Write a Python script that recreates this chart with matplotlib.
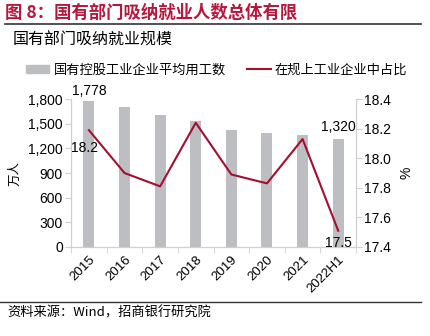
import matplotlib.pyplot as plt
from matplotlib.lines import Line2D
import numpy as np

plt.rcParams['font.family'] = ['Liberation Sans', 'Noto Sans CJK SC', 'DejaVu Sans']

categories = ['2015', '2016', '2017', '2018', '2019', '2020', '2021', '2022H1']
employees = [1778, 1700, 1605, 1532, 1423, 1390, 1362, 1320]
share = [18.19, 17.90, 17.81, 18.24, 17.89, 17.83, 18.13, 17.51]

bar_color = '#BDBEC2'
line_color = '#A50E2E'
spine_color = '#D0D0D0'
cjk = ['Noto Sans CJK SC']

fig = plt.figure(figsize=(4.31, 3.36), dpi=100)
ax = fig.add_axes([0.165, 0.265, 0.661, 0.44])
ax2 = ax.twinx()

x = np.arange(len(categories))
ax.bar(x, employees, width=0.31, color=bar_color, zorder=2)
ax2.plot(x, share, color=line_color, lw=1.5, zorder=3)

ax.set_xlim(-0.5, len(categories) - 0.5)
ax.set_ylim(0, 1800)
ax.set_yticks(range(0, 1801, 300))
ax.set_yticklabels([f'{v:,}' for v in range(0, 1801, 300)], fontsize=10)
ax2.set_ylim(17.4, 18.4)
ax2.set_yticks([17.4, 17.6, 17.8, 18.0, 18.2, 18.4])
ax2.set_yticklabels(['17.4', '17.6', '17.8', '18.0', '18.2', '18.4'], fontsize=10)

ax.set_xticks(x)
ax.set_xticklabels(categories, rotation=45, ha='right', rotation_mode='anchor', fontsize=9.5)
ax.set_xticks(np.arange(-0.5, len(categories), 1), minor=True)
ax.tick_params(axis='x', which='major', length=0, pad=5)
ax.tick_params(axis='x', which='minor', length=4, color=spine_color)
ax.tick_params(axis='y', length=4, color=spine_color, pad=2)
ax2.tick_params(axis='y', length=4, color=spine_color, pad=2)

for a in (ax, ax2):
    a.spines['top'].set_visible(False)
    for s in ('left', 'right', 'bottom'):
        a.spines[s].set_color(spine_color)

ax.set_ylabel('万人', fontsize=9, family=cjk, labelpad=5)
ax2.set_ylabel('%', fontsize=10, labelpad=6)

# data labels
ax.annotate(f'{employees[0]:,}', (x[0], employees[0]), xytext=(0, 2), textcoords='offset points',
            ha='center', va='bottom', fontsize=10)
ax.annotate(f'{employees[-1]:,}', (x[-1], employees[-1]), xytext=(0, 3), textcoords='offset points',
            ha='center', va='bottom', fontsize=10)
ax2.annotate(f'{share[0]:.1f}', (x[0], share[0]), xytext=(-3, -13), textcoords='offset points',
             ha='center', va='center', fontsize=10)
ax2.annotate(f'{share[-1]:.1f}', (x[-1], share[-1]), xytext=(0, -9), textcoords='offset points',
             ha='center', va='center', fontsize=10)

# legend
handles = [plt.Rectangle((0, 0), 1, 1, color=bar_color),
           Line2D([0], [0], color=line_color, lw=1.5)]
fig.legend(handles, ['国有控股工业企业平均用工数', '在规上工业企业中占比'],
           loc='center', bbox_to_anchor=(0.502, 0.792), ncol=2, frameon=False,
           handlelength=1.8, handleheight=0.55, columnspacing=1.6,
           handletextpad=0.3, prop={'family': cjk, 'size': 9.5})

# title and source
fig.text(0.012, 0.963, '图 8：国有部门吸纳就业人数总体有限', color='#B8173D', fontsize=12.5,
         fontweight='bold', family=cjk, va='center')
fig.add_artist(Line2D([0.012, 0.977], [0.928, 0.928], color='#333333', lw=1.2))
fig.text(0.03, 0.88, '国有部门吸纳就业规模', fontsize=11.5, family=cjk, va='center')
fig.add_artist(Line2D([0.0, 0.977], [0.101, 0.101], color='#333333', lw=1.0))
fig.text(0.018, 0.07, '资料来源：Wind，招商银行研究院', fontsize=9.5, family=cjk, va='center')

fig.savefig('out.png', dpi=100)
